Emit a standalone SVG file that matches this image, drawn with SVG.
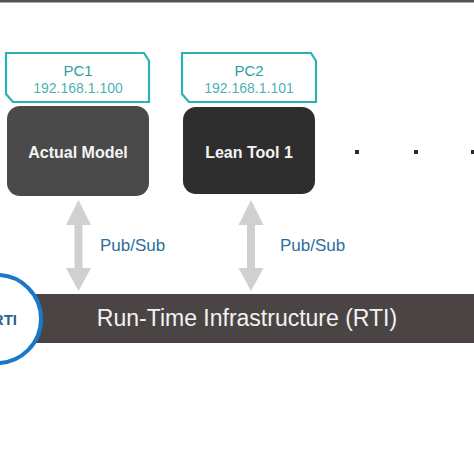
<svg xmlns="http://www.w3.org/2000/svg" width="474" height="474" viewBox="0 0 474 474">
<style>
.pc{fill:#fff;stroke:#2bb3b3;stroke-width:2.2}
.pct{font-family:"Liberation Sans",Arial,sans-serif;fill:#2a9fa3;text-anchor:middle}
.node{font-family:"Liberation Sans",Arial,sans-serif;font-weight:bold;font-size:16px;fill:#f4f4f4;text-anchor:middle}
.lbl{font-family:"Liberation Sans",Arial,sans-serif;font-size:17px;fill:#2d6e9c}
.arr{fill:#d0d0d0}
.dot{fill:#2b2b2b}
</style>
<rect x="0" y="0" width="474" height="2.5" fill="#555"/>
<g id="pc1">
<path class="pc" d="M6,53 H144 L149,61 V102 H13 L6,94 Z"/>
<text class="pct" x="78" y="76" font-size="15">PC1</text>
<text class="pct" x="78" y="93" font-size="14" fill-opacity="0.85">192.168.1.100</text>
</g>
<g id="pc2">
<path class="pc" d="M182,53 H311 L316,61 V102 H189 L182,94 Z"/>
<text class="pct" x="249" y="76" font-size="15">PC2</text>
<text class="pct" x="249" y="93" font-size="14" fill-opacity="0.85">192.168.1.101</text>
</g>
<g id="actual-model">
<rect x="7" y="106" width="142" height="90" rx="13" fill="#4a4a4a"/>
<text class="node" x="78" y="158">Actual Model</text>
</g>
<g id="lean-tool-1">
<rect x="183" y="107" width="132" height="87" rx="13" fill="#2e2e2e"/>
<text class="node" x="249" y="158">Lean Tool 1</text>
</g>
<g id="more">
<rect class="dot" x="355" y="150" width="4" height="4"/>
<rect class="dot" x="414" y="150" width="4" height="4"/>
<rect class="dot" x="471" y="150" width="4" height="4"/>
</g>
<g id="connectors">
<path class="arr" d="M78.5,200 L91,225 H82.5 V268 H91 L78.5,291 L66,268 H74.5 V225 H66 Z"/>
<path class="arr" d="M251,200 L263.5,225 H255 V268 H263.5 L251,291 L238.5,268 H247 V225 H238.5 Z"/>
<text class="lbl" x="100" y="251">Pub/Sub</text>
<text class="lbl" x="280" y="251">Pub/Sub</text>
</g>
<g id="rti">
<rect x="30" y="294" width="444" height="49" fill="#4a4544"/>
<text x="247" y="326" font-family="Liberation Sans,Arial,sans-serif" font-size="23" fill="#f2f2f2" text-anchor="middle">Run-Time Infrastructure (RTI)</text>
</g>
<g id="rti-circle">
<circle cx="-3" cy="319" r="44" fill="#fff" stroke="#1a78c8" stroke-width="4"/>
<text x="17" y="325" font-family="Liberation Sans,Arial,sans-serif" font-size="15" font-weight="bold" fill="#2d5f8a" text-anchor="end">RTI</text>
</g>
</svg>
